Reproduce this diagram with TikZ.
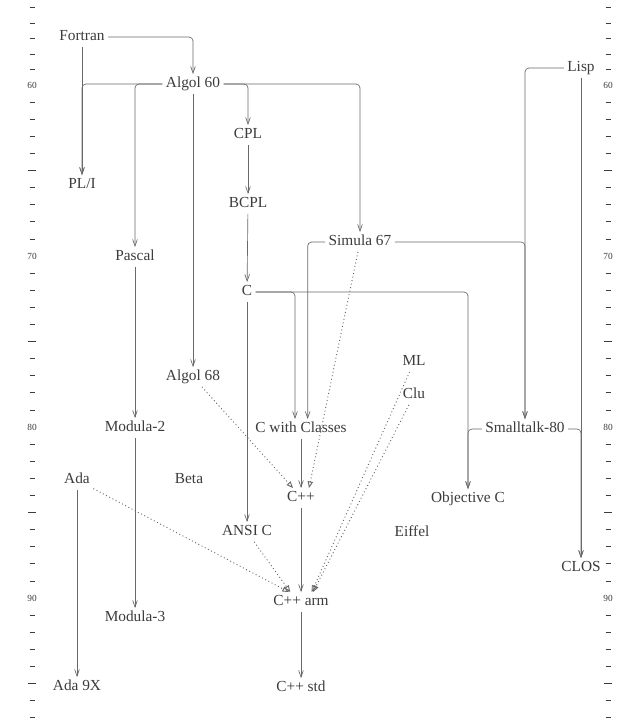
\documentclass[tikz,border=0pt]{standalone}
\usepackage{fontspec}
\setmainfont{Liberation Serif}
\usetikzlibrary{arrows.meta}
\definecolor{inkgray}{RGB}{60,60,60}
\definecolor{linegray}{RGB}{105,105,105}

\begin{document}
\begin{tikzpicture}[x=0.75pt, y=-0.75pt, >={Straight Barb[length=5pt,width=3.5pt]},
    lang/.style={font=\fontsize{11.5}{13}\selectfont, text=inkgray,
      inner sep=2.5pt, text height=7.5pt, text depth=2pt},
    link/.style={->, draw=linegray, line width=0.5pt, rounded corners=3pt},
    hint/.style={-{Triangle[open,length=5pt,width=4pt]}, draw=linegray,
      line width=0.7pt, dotted},
    yeartick/.style={draw=inkgray, line width=0.6pt},
    year/.style={font=\fontsize{7}{8}\selectfont, text=inkgray, inner sep=0pt}]
  \fill[white] (0,0) rectangle (641,724);
  \useasboundingbox (0,0) rectangle (641,724);
  % time ruler on both sides
  \foreach \yr in {55,...,97} {
    \pgfmathsetmacro\yy{\yr<60 ? 85+(\yr-60)*15.5 : 85+(\yr-60)*17.1}
    \pgfmathtruncatemacro\rest{mod(\yr,10)}
    \ifnum\rest=0
      \node[year] (l\yr) at (32,\yy) {\yr};
      \node[year] (r\yr) at (608,\yy) {\yr};
    \else
      \pgfmathsetmacro\len{(\rest==5 && \yr>55) ? 4 : 2.5}
      \draw[yeartick] (32-\len,\yy) -- (32+\len,\yy) (608-\len,\yy) -- (608+\len,\yy);
    \fi
  }
  % languages
  \node[lang] (fortran) at (82,37) {Fortran};
  \node[lang] (algol60) at (193,84) {Algol 60};
  \node[lang] (lisp) at (581,68) {Lisp};
  \node[lang] (cpl) at (248,135) {CPL};
  \node[lang] (pli) at (82,185) {PL/I};
  \node[lang] (bcpl) at (248,204) {BCPL};
  \node[lang] (pascal) at (135,257) {Pascal};
  \node[lang] (simula) at (360,242) {Simula 67};
  \node[lang] (c) at (247,292) {C};
  \node[lang] (algol68) at (193,377) {Algol 68};
  \node[lang] (ml) at (414,362) {ML};
  \node[lang] (clu) at (414,395) {Clu};
  \node[lang] (modula2) at (135,428) {Modula-2};
  \node[lang] (cwc) at (301,429) {C with Classes};
  \node[lang] (smalltalk) at (525,429) {Smalltalk-80};
  \node[lang] (ada) at (77,480) {Ada};
  \node[lang] (beta) at (189,480) {Beta};
  \node[lang] (cpp) at (301,498) {C++};
  \node[lang] (objc) at (468,499) {Objective C};
  \node[lang] (ansic) at (247,532) {ANSI C};
  \node[lang] (eiffel) at (412,533) {Eiffel};
  \node[lang] (clos) at (581,568) {CLOS};
  \node[lang] (cpparm) at (301,602) {C++ arm};
  \node[lang] (modula3) at (135,618) {Modula-3};
  \node[lang] (ada9x) at (77,687) {Ada 9X};
  \node[lang] (cppstd) at (301,688) {C++ std};
  % direct descent
  \draw[link] (fortran) -| (algol60);
  \draw[link] (fortran) -- (pli);
  \draw[link] (algol60) -| (pli);
  \draw[link] (algol60) -| (pascal);
  \draw[link] (algol60) -- (algol68);
  \draw[link] (algol60) -| (cpl);
  \draw[link] (algol60) -| (simula);
  \draw[link] (cpl) -- (bcpl);
  \draw[link] (bcpl) -- (c);
  \draw[link] (c) -| ([xshift=-4.5pt]cwc.north);
  \draw[link] (c) -| (objc);
  \draw[link] (c) -- (ansic);
  \draw[link] (simula) -| ([xshift=5pt]cwc.north);
  \draw[link] (simula) -| (smalltalk);
  \draw[link] (lisp) -| (smalltalk);
  \draw[link] (lisp) -- (clos);
  \draw[link] (smalltalk) -| (clos);
  \draw[link] (smalltalk) -| (objc);
  \draw[link] (pascal) -- (modula2);
  \draw[link] (modula2) -- (modula3);
  \draw[link] (cwc) -- (cpp);
  \draw[link] (cpp) -- (cpparm);
  \draw[link] (cpparm) -- (cppstd);
  \draw[link] (ada) -- (ada9x);
  % influences
  \draw[hint] (algol68) -- ([xshift=-6pt]cpp.north);
  \draw[hint] (simula) -- ([xshift=6pt]cpp.north);
  \draw[hint] (ada) -- ([xshift=-9pt]cpparm.north);
  \draw[hint] (ansic) -- ([xshift=-8pt]cpparm.north);
  \draw[hint] (ml) -- ([xshift=8pt]cpparm.north);
  \draw[hint] (clu) -- ([xshift=9pt]cpparm.north);
\end{tikzpicture}
\end{document}
